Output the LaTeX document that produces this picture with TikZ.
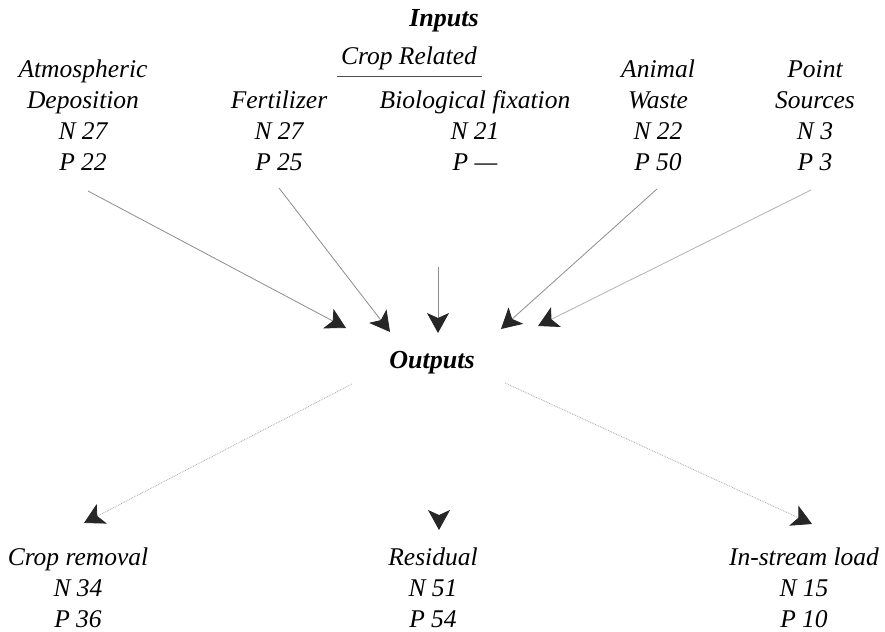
\documentclass[tikz,border=0pt]{standalone}
\usepackage{fontspec}
\setmainfont{Liberation Serif}
\usetikzlibrary{arrows.meta}
\tikzset{
  lbl/.style={font=\itshape\fontsize{25.5}{31}\selectfont, align=center, inner sep=0pt, anchor=base},
  hd/.style={font=\bfseries\itshape\fontsize{26}{31}\selectfont, inner sep=0pt, anchor=base},
  arr/.style={draw=black!45, line width=0.8pt, -{Stealth[length=20pt,width=22pt,inset=5pt,color=black!85]}},
  outarr/.style={arr, draw=black!35, densely dotted},
}
\begin{document}
\begin{tikzpicture}[x=1pt,y=-1pt]
\useasboundingbox (0,0) rectangle (885,631);
% headings (anchor base = baseline of the last line)
\node[hd] (inputs) at (444,27) {Inputs};
\node[lbl] (crop) at (409,65) {Crop Related};
\draw[line width=0.8pt, black!70] (337,76) -- (482,76);
% input sources
\node[lbl] (atm) at (83,171) {Atmospheric\\Deposition\\N 27\\P 22};
\node[lbl] (fert) at (279,171) {Fertilizer\\N 27\\P 25};
\node[lbl] (bio) at (475,171) {Biological fixation\\N 21\\P ---};
\node[lbl] (anim) at (658,171) {Animal\\Waste\\N 22\\P 50};
\node[lbl] (pt) at (815,171) {Point\\Sources\\N 3\\P 3};
% outputs
\node[hd] (outputs) at (432,368) {Outputs};
\node[lbl] (cropr) at (78,627) {Crop removal\\N 34\\P 36};
\node[lbl] (resid) at (433,627) {Residual\\N 51\\P 54};
\node[lbl] (instr) at (804,627) {In-stream load\\N 15\\P 10};
% connector ends
\coordinate (atmS) at (88,191);
\coordinate (atmE) at (346,328);
\coordinate (fertS) at (279,188);
\coordinate (fertE) at (390,332);
\coordinate (bioS) at (438,267);
\coordinate (bioE) at (438,333);
\coordinate (animS) at (657,189);
\coordinate (animE) at (501,329);
\coordinate (ptS) at (811,190);
\coordinate (ptE) at (538,326);
\coordinate (crS) at (352,384);
\coordinate (crE) at (84,523);
\coordinate (reS) at (439,509);
\coordinate (reE) at (439,530);
\coordinate (isS) at (505,383);
\coordinate (isE) at (812,524);
% connectors
\draw[arr] (atmS) -- (atmE);
\draw[arr] (fertS) -- (fertE);
\draw[arr] (bioS) -- (bioE);
\draw[arr] (animS) -- (animE);
\draw[arr, draw=black!30] (ptS) -- (ptE);
\draw[outarr] (crS) -- (crE);
\draw[arr, draw=white] (reS) -- (reE);
\draw[outarr] (isS) -- (isE);
\end{tikzpicture}
\end{document}
